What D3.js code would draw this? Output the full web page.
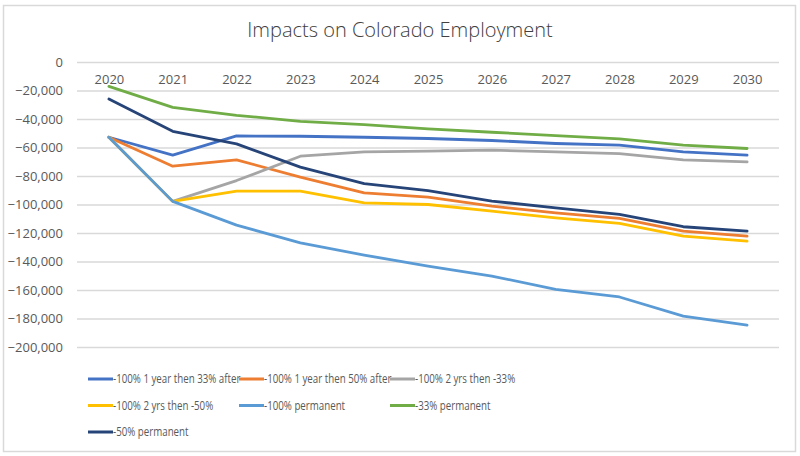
<!DOCTYPE html>
<html>
<head>
<meta charset="utf-8">
<script src="https://cdn.jsdelivr.net/npm/d3@7"></script>
<style>
  body { margin: 0; background: #fff; }
  text { font-family: "Open Sans", Arial, sans-serif; }
</style>
</head>
<body>
<svg id="chart" width="800" height="456"></svg>
<script>
const years = ["2020", "2021", "2022", "2023", "2024", "2025", "2026", "2027", "2028", "2029", "2030"];
const yTicks = [0, -20000, -40000, -60000, -80000, -100000, -120000, -140000, -160000, -180000, -200000];

const seriesNames = [
    "-100% 1 year then 33% after",
    "-100% 1 year then 50% after",
    "-100% 2 yrs then -33%",
    "-100% 2 yrs then -50%",
    "-100% permanent",
    "-33% permanent",
    "-50% permanent"
];
const colors = ["#4472C4", "#ED7D31", "#A5A5A5", "#FFC000", "#5B9BD5", "#70AD47", "#264478"];

const oneYear33 = [-52800, -65400, -51900, -52100, -52800, -53700, -55100, -57200, -58400, -63100, -65400];
const oneYear50 = [-52800, -73100, -68700, -80800, -91800, -94800, -101200, -105900, -109800, -118700, -122200];
const twoYrs33 = [-52800, -97800, -83200, -66100, -63100, -62600, -61900, -63100, -64300, -68700, -70100];
const twoYrs50 = [-52800, -97800, -90600, -90600, -98800, -100000, -104700, -109400, -113300, -122200, -125700];
const perm100 = [-52800, -97800, -114500, -126900, -135500, -143200, -150200, -159600, -164900, -178300, -184600];
const perm33 = [-17100, -31800, -37400, -41600, -43900, -47000, -49300, -51600, -54000, -58400, -60700];
const perm50 = [-26000, -48600, -57500, -73800, -85300, -90200, -97600, -102300, -107000, -115600, -118700];

const seriesValues = [oneYear33, oneYear50, twoYrs33, twoYrs50, perm100, perm33, perm50];

const svg = d3.select("#chart");
const width = 800, height = 456;
const plot = { left: 77, right: 779, top: 62, bottom: 347 };

// chart border
svg.append("rect")
    .attr("x", 3.5).attr("y", 5.5)
    .attr("width", 792).attr("height", 446)
    .attr("fill", "#fff")
    .attr("stroke", "#d9d9d9")
    .attr("stroke-width", 1.5);

svg.append("text")
    .attr("x", width / 2)
    .attr("y", 37)
    .attr("text-anchor", "middle")
    .style("font-size", "20px")
    .style("font-weight", 300)
    .attr("fill", "#404040")
    .text("Impacts on Colorado Employment");

const x = d3.scalePoint()
    .domain(years)
    .range([plot.left, plot.right])
    .padding(0.5);

const y = d3.scaleLinear()
    .domain([-200000, 0])
    .range([plot.bottom, plot.top]);

// gridlines + y labels
const yAxis = d3.axisLeft(y)
    .tickValues(yTicks)
    .tickSize(-(plot.right - plot.left))
    .tickPadding(14)
    .tickFormat(d3.format(",.0f"));

const gy = svg.append("g")
    .attr("transform", `translate(${plot.left},0)`)
    .call(yAxis);
gy.select(".domain").remove();
gy.selectAll(".tick line").attr("stroke", "#d9d9d9").attr("stroke-width", 1.3);
gy.selectAll(".tick text")
    .attr("fill", "#595959")
    .style("font-size", "13px")
    .text(d => d === 0 ? "0" : d3.format(",")(d));

// category labels sit under the zero line
const xAxis = d3.axisBottom(x).tickSize(0).tickPadding(13);
const gx = svg.append("g")
    .attr("transform", `translate(0,${y(0)})`)
    .call(xAxis);
gx.select(".domain").remove();
gx.selectAll(".tick text")
    .attr("fill", "#595959")
    .style("font-size", "13px");

const line = d3.line()
    .x((d, i) => x(years[i]))
    .y(d => y(d));

svg.selectAll(".series")
    .data(seriesValues)
    .enter()
    .append("path")
    .attr("class", "series")
    .attr("d", line)
    .attr("fill", "none")
    .attr("stroke", (d, i) => colors[i])
    .attr("stroke-width", 2.8)
    .attr("stroke-linejoin", "round")
    .attr("stroke-linecap", "round");

// legend - narrow the text a bit, the original used a condensed face
const legend = svg.append("g");
const items = legend.selectAll("g")
    .data(seriesNames)
    .enter()
    .append("g")
    .attr("transform", (d, i) => `translate(${88 + (i % 3) * 151},${379 + Math.floor(i / 3) * 26.5})`);

items.append("line")
    .attr("x1", 0).attr("x2", 25)
    .attr("stroke", (d, i) => colors[i])
    .attr("stroke-width", 3);

items.append("text")
    .attr("transform", "translate(25,0) scale(0.78,1)")
    .attr("dy", "0.35em")
    .attr("fill", "#595959")
    .style("font-size", "12.5px")
    .text(d => d);
</script>
</body>
</html>
